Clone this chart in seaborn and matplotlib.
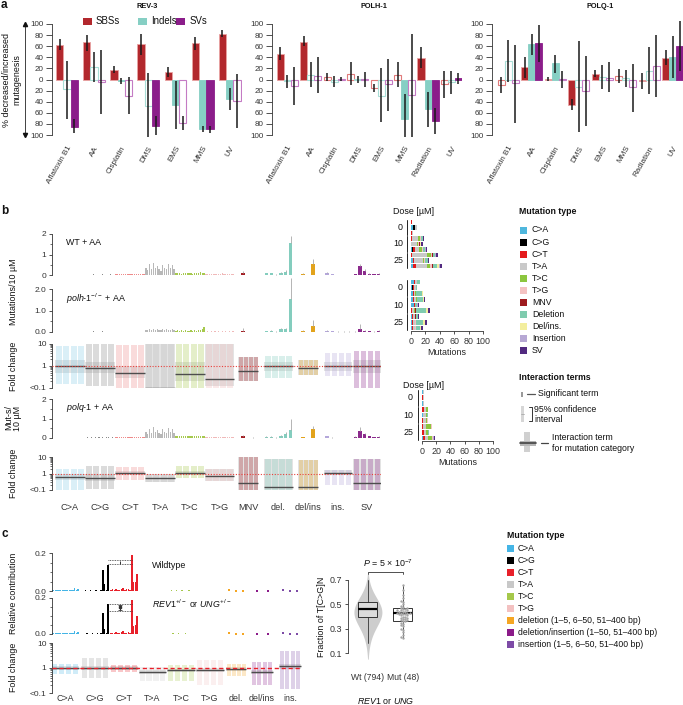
import numpy as np
import pandas as pd
import matplotlib
matplotlib.use("Agg")
import matplotlib.pyplot as plt
import matplotlib.transforms as mtransforms
from matplotlib.patches import Rectangle
from matplotlib.ticker import LogLocator, NullFormatter, MultipleLocator
import seaborn as sns

# ======================= DATA =======================
# ---- panel a: % decreased/increased mutagenesis ----
A_TYPES = ["SBSs", "Indels", "SVs"]
REV3_CATS = ["Aflatoxin B1", "AA", "Cisplatin", "DMS", "EMS", "MMS", "UV"]
REV3_SBS = [63, 67, 17, 64, 13, 65, 82]
REV3_SBS_LO = [53, 52, 11, 45, 4, 53, 76]
REV3_SBS_HI = [73, 81, 24, 82, 22, 77, 89]
REV3_SBS_SIG = [1, 1, 1, 1, 1, 1, 1]
REV3_IND = [-18, 23, -3, -47, -46, -89, -36]
REV3_IND_LO = [-72, -5, -8, -103, -90, -95, -55]
REV3_IND_HI = [34, 50, 3, 11, -2, -84, -16]
REV3_IND_SIG = [0, 0, 1, 0, 1, 1, 1]
REV3_SV = [-85, -5, -30, -83, -79, -90, -38]
REV3_SV_LO = [-97, -63, -63, -100, -91, -96, -87]
REV3_SV_HI = [-72, 53, 4, -65, -65, -84, 10]
REV3_SV_SIG = [1, 0, 0, 1, 0, 1, 0]

POLH_CATS = ["Aflatoxin B1", "AA", "Cisplatin", "DMS", "EMS", "MMS", "Radiation", "UV"]
POLH_SBS = [46, 68, 4, 10, -15, 9, 39, -9]
POLH_SBS_LO = [35, 60, -3, -10, -23, -14, 20, -34]
POLH_SBS_HI = [58, 78, 12, 31, -8, 32, 58, 15]
POLH_SBS_SIG = [1, 1, 0, 0, 0, 0, 1, 0]
POLH_IND = [-3, 9, -4, 1, -29, -72, -54, -5]
POLH_IND_LO = [-15, -14, -14, -6, -76, -104, -85, -27]
POLH_IND_HI = [9, 32, 6, 6, 20, -27, -22, 15]
POLH_IND_SIG = [0, 0, 0, 0, 0, 1, 1, 0]
POLH_SV = [-11, 7, 1, 1, -9, -28, -75, 2]
POLH_SV_LO = [-46, -25, -2, -13, -57, -104, -98, -9]
POLH_SV_HI = [22, 40, 4, 13, 37, 82, -52, 12]
POLH_SV_SIG = [0, 0, 0, 0, 0, 0, 1, 1]

POLQ_CATS = ["Aflatoxin B1", "AA", "Cisplatin", "DMS", "EMS", "MMS", "Radiation", "UV"]
POLQ_SBS = [-10, 23, 1, -46, 10, 6, -3, 38]
POLQ_SBS_LO = [-25, 3, -2, -55, 4, -6, -18, 26]
POLQ_SBS_HI = [4, 41, 4, -35, 17, 19, 12, 54]
POLQ_SBS_SIG = [0, 1, 1, 1, 1, 0, 1, 1]
POLQ_IND = [33, 64, 29, -13, 5, 3, 16, 40]
POLQ_IND_LO = [-5, 44, 12, -95, -17, -13, -26, 2]
POLQ_IND_HI = [72, 82, 44, 69, 27, 17, 59, 79]
POLQ_IND_SIG = [0, 1, 1, 0, 0, 0, 0, 1]
POLQ_SV = [-7, 66, 1, -20, 3, -14, 24, 60]
POLQ_SV_LO = [-79, 32, -15, -83, -23, -59, -31, 16]
POLQ_SV_HI = [62, 99, 15, 42, 31, 28, 80, 105]
POLQ_SV_SIG = [0, 1, 0, 0, 0, 0, 0, 1]

# ---- panel b: mutation spectra (mutations / 10 uM) ----
B_CATS = ["C>A", "C>G", "C>T", "T>A", "T>C", "T>G", "MNV", "del.", "del/ins", "ins.", "SV"]
WT_CA = [0.02, 0.02, 0.01, 0.02, 0.02, 0.01, 0.02, 0.02, 0.02, 0.01, 0.02, 0.02, 0.01, 0.02, 0.02, 0.02]
WT_CG = [0.01, 0.02, 0.01, 0.02, 0.03, 0.02, 0.01, 0.02, 0.02, 0.03, 0.01, 0.02, 0.02, 0.03, 0.02, 0.02]
WT_CT = [0.05, 0.04, 0.06, 0.04, 0.07, 0.05, 0.04, 0.05, 0.06, 0.04, 0.05, 0.07, 0.04, 0.05, 0.06, 0.04]
WT_TA = [0.35, 0.25, 0.55, 0.30, 0.60, 0.35, 0.45, 0.30, 0.20, 0.50, 0.35, 0.30, 0.55, 0.35, 0.50, 0.30]
WT_TC = [0.10, 0.08, 0.12, 0.07, 0.10, 0.09, 0.08, 0.12, 0.10, 0.07, 0.09, 0.12, 0.10, 0.13, 0.08, 0.12]
WT_TG = [0.03, 0.05, 0.03, 0.04, 0.06, 0.03, 0.04, 0.05, 0.04, 0.08, 0.03, 0.04, 0.05, 0.03, 0.04, 0.05]
WT_MNV = [0.12, 0.01]
WT_DEL = [0.08, 0.08, 0.02, 0.10, 0.15, 1.55]
WT_DELINS = [0.06, 0.55]
WT_INS = [0.10, 0.03, 0.01, 0.01, 0.01]
WT_SVS = [0.04, 0.42, 0.20, 0.07, 0.04, 0.07]
WT_MNV_HI = [0.18, 0.01]
WT_DEL_HI = [0.12, 0.12, 0.03, 0.15, 0.22, 1.90]
WT_DELINS_HI = [0.09, 0.78]
WT_INS_HI = [0.15, 0.05, 0.02, 0.02, 0.02]
WT_SVS_HI = [0.06, 0.55, 0.28, 0.10, 0.06, 0.10]

POLH_CA = [0.01, 0.01, 0.02, 0.01, 0.01, 0.01, 0.01, 0.02, 0.01, 0.01, 0.01, 0.01, 0.01, 0.02, 0.01, 0.01]
POLH_CG = [0.01, 0.02, 0.01, 0.02, 0.03, 0.01, 0.02, 0.01, 0.02, 0.03, 0.01, 0.02, 0.01, 0.02, 0.01, 0.02]
POLH_CT = [0.01, 0.02, 0.01, 0.02, 0.01, 0.02, 0.02, 0.01, 0.02, 0.01, 0.02, 0.01, 0.02, 0.01, 0.02, 0.02]
POLH_TA = [0.08, 0.10, 0.15, 0.08, 0.12, 0.10, 0.14, 0.08, 0.10, 0.12, 0.09, 0.15, 0.10, 0.08, 0.12, 0.10]
POLH_TC = [0.06, 0.08, 0.05, 0.07, 0.06, 0.08, 0.05, 0.06, 0.07, 0.05, 0.08, 0.06, 0.07, 0.10, 0.15, 0.22]
POLH_TG = [0.02, 0.03, 0.02, 0.04, 0.02, 0.03, 0.02, 0.03, 0.02, 0.04, 0.02, 0.03, 0.02, 0.03, 0.02, 0.03]
POLH_MNV = [0.06, 0.0]
POLH_DEL = [0.03, 0.05, 0.02, 0.12, 0.15, 1.55]
POLH_DELINS = [0.06, 0.30]
POLH_INS = [0.05, 0.03, 0.02, 0.02, 0.02]
POLH_SVS = [0.02, 0.12, 0.05, 0.03, 0.02, 0.05]
POLH_MNV_HI = [0.20, 0.0]
POLH_DEL_HI = [0.06, 0.08, 0.04, 0.18, 0.20, 2.50]
POLH_DELINS_HI = [0.10, 0.58]
POLH_INS_HI = [0.10, 0.05, 0.03, 0.03, 0.03]
POLH_SVS_HI = [0.04, 0.35, 0.08, 0.05, 0.03, 0.08]

POLQ_CA = [0.02, 0.01, 0.02, 0.02, 0.01, 0.02, 0.02, 0.01, 0.02, 0.02, 0.01, 0.02, 0.02, 0.01, 0.02, 0.02]
POLQ_CG = [0.02, 0.03, 0.02, 0.03, 0.02, 0.04, 0.02, 0.03, 0.02, 0.03, 0.02, 0.03, 0.04, 0.02, 0.03, 0.02]
POLQ_CT = [0.05, 0.04, 0.06, 0.05, 0.07, 0.04, 0.05, 0.06, 0.04, 0.05, 0.07, 0.04, 0.05, 0.06, 0.04, 0.06]
POLQ_TA = [0.30, 0.20, 0.45, 0.25, 0.55, 0.30, 0.40, 0.25, 0.20, 0.45, 0.30, 0.25, 0.50, 0.30, 0.45, 0.25]
POLQ_TC = [0.10, 0.08, 0.11, 0.09, 0.08, 0.10, 0.09, 0.12, 0.08, 0.10, 0.09, 0.11, 0.08, 0.12, 0.10, 0.11]
POLQ_TG = [0.03, 0.04, 0.03, 0.05, 0.03, 0.06, 0.03, 0.04, 0.03, 0.05, 0.04, 0.03, 0.05, 0.03, 0.04, 0.03]
POLQ_MNV = [0.12, 0.02]
POLQ_DEL = [0.06, 0.06, 0.02, 0.10, 0.20, 0.40]
POLQ_DELINS = [0.04, 0.45]
POLQ_INS = [0.08, 0.02, 0.01, 0.01, 0.01]
POLQ_SVS = [0.05, 0.38, 0.20, 0.08, 0.05, 0.06]
POLQ_MNV_HI = [0.15, 0.03]
POLQ_DEL_HI = [0.10, 0.10, 0.03, 0.15, 0.30, 1.00]
POLQ_DELINS_HI = [0.06, 0.62]
POLQ_INS_HI = [0.12, 0.03, 0.02, 0.02, 0.02]
POLQ_SVS_HI = [0.08, 0.55, 0.28, 0.12, 0.07, 0.08]

# fold changes (interaction terms) per category: estimate, per-context range, category CI box
FC_POLH_EST = [0.95, 0.80, 0.50, 0.10, 0.45, 0.25, 0.60, 0.95, 0.85, 0.95, 0.95]
FC_POLH_LO = [0.15, 0.12, 0.10, 0.10, 0.10, 0.10, 0.20, 0.30, 0.40, 0.35, 0.10]
FC_POLH_HI = [8.0, 10.0, 9.0, 10.0, 10.0, 10.0, 2.5, 3.0, 1.8, 4.0, 5.0]
FC_POLH_BOX_LO = [0.5, 0.5, 0.3, 0.1, 0.2, 0.12, 0.2, 0.6, 0.4, 0.6, 0.5]
FC_POLH_BOX_HI = [1.8, 1.6, 1.0, 10.0, 1.5, 10.0, 2.5, 1.5, 1.8, 1.6, 1.8]
FC_POLQ_EST = [0.60, 0.55, 1.10, 0.55, 1.10, 0.70, 0.25, 0.15, 0.15, 1.10, 0.25]
FC_POLQ_LO = [0.10, 0.12, 0.40, 0.30, 0.50, 0.35, 0.10, 0.10, 0.10, 0.20, 0.10]
FC_POLQ_HI = [1.8, 3.0, 2.5, 1.0, 3.0, 1.8, 10.0, 8.0, 7.0, 1.6, 8.0]
FC_POLQ_BOX_LO = [0.4, 0.35, 0.8, 0.3, 0.8, 0.35, 0.1, 0.1, 0.1, 0.8, 0.1]
FC_POLQ_BOX_HI = [0.9, 0.9, 1.5, 1.0, 1.5, 1.8, 10.0, 8.0, 7.0, 1.6, 8.0]

# dose-response stacked counts (rows: 3 samples x doses 0,10,25)
MUT_TYPES = ["C>A", "C>G", "C>T", "T>A", "T>C", "T>G", "MNV", "Deletion", "Del/ins.", "Insertion", "SV"]
DOSES = ["0", "10", "25"]
COUNTS_WT = [[0, 0, 1, 0, 0, 0, 0, 0, 0, 0, 0],
             [3, 2, 1, 3, 0, 0, 0, 0, 0, 0, 0],
             [0, 0, 2, 1, 0, 0, 0, 0, 0, 0, 0],
             [0, 0, 1, 9, 3, 1, 0, 2, 1, 0, 1],
             [0, 0, 0, 8, 2, 1, 1, 1, 1, 0, 2],
             [2, 1, 2, 6, 4, 1, 0, 3, 1, 1, 1],
             [0, 0, 2, 20, 6, 1, 1, 3, 1, 1, 3],
             [3, 0, 1, 12, 2, 1, 0, 4, 1, 0, 1],
             [3, 0, 4, 15, 5, 2, 2, 5, 3, 1, 3]]
COUNTS_POLH = [[4, 0, 2, 2, 1, 0, 0, 3, 0, 0, 0],
               [1, 2, 1, 3, 0, 0, 0, 1, 0, 0, 0],
               [3, 0, 1, 2, 1, 0, 0, 8, 1, 0, 1],
               [3, 0, 1, 3, 1, 1, 0, 8, 1, 0, 2],
               [4, 0, 1, 1, 0, 0, 0, 3, 0, 1, 1],
               [0, 0, 2, 2, 1, 1, 1, 14, 3, 0, 3],
               [2, 0, 1, 2, 1, 0, 1, 3, 0, 0, 1],
               [1, 0, 2, 2, 1, 1, 0, 10, 3, 0, 2],
               [1, 0, 2, 2, 1, 1, 0, 6, 1, 0, 2]]
COUNTS_POLQ = [[2, 0, 0, 1, 0, 0, 0, 0, 0, 0, 0],
               [0, 0, 2, 1, 0, 0, 0, 0, 0, 0, 0],
               [1, 0, 0, 2, 0, 0, 0, 0, 0, 0, 0],
               [0, 0, 3, 2, 3, 0, 0, 0, 0, 0, 0],
               [1, 0, 1, 4, 1, 0, 0, 1, 0, 0, 0],
               [0, 0, 2, 4, 1, 1, 0, 0, 0, 1, 0],
               [0, 0, 1, 5, 6, 2, 0, 0, 0, 0, 0],
               [0, 0, 3, 3, 2, 1, 0, 1, 0, 0, 0],
               [1, 0, 3, 5, 5, 2, 0, 0, 0, 1, 1]]

# ---- panel c: relative contribution spectra ----
C_CATS = ["C>A", "C>G", "C>T", "T>A", "T>C", "T>G", "del.", "del/ins", "ins."]
C_CA_WT = [0.004, 0.003, 0.004, 0.005, 0.003, 0.004, 0.004, 0.003, 0.005, 0.004, 0.004, 0.005, 0.006, 0.018, 0.007, 0.012]
C_CG_WT = [0.002, 0.002, 0.003, 0.002, 0.002, 0.003, 0.002, 0.002, 0.003, 0.002, 0.002, 0.003, 0.108, 0.035, 0.006, 0.139]
C_CT_WT = [0.006, 0.008, 0.005, 0.012, 0.007, 0.006, 0.009, 0.015, 0.006, 0.008, 0.012, 0.007, 0.190, 0.045, 0.048, 0.087]
C_TA_WT = [0.001, 0.001, 0.001, 0.002, 0.001, 0.001, 0.001, 0.001, 0.001, 0.001, 0.002, 0.001, 0.001, 0.001, 0.001, 0.001]
C_TC_WT = [0.002, 0.002, 0.003, 0.002, 0.002, 0.003, 0.002, 0.002, 0.003, 0.002, 0.002, 0.002, 0.003, 0.002, 0.002, 0.002]
C_TG_WT = [0.001, 0.001, 0.001, 0.001, 0.002, 0.001, 0.001, 0.001, 0.001, 0.001, 0.001, 0.002, 0.001, 0.001, 0.001, 0.001]
C_DEL_WT = [0.003, 0.002, 0.002]
C_DELINS_WT = [0.001, 0.001]
C_INS_WT = [0.003, 0.001, 0.001]
C_CA_REV = [0.004, 0.003, 0.004, 0.004, 0.003, 0.004, 0.005, 0.003, 0.004, 0.004, 0.005, 0.004, 0.006, 0.016, 0.006, 0.010]
C_CG_REV = [0.002, 0.002, 0.002, 0.003, 0.002, 0.002, 0.003, 0.002, 0.002, 0.003, 0.002, 0.003, 0.117, 0.030, 0.006, 0.167]
C_CT_REV = [0.006, 0.007, 0.005, 0.011, 0.007, 0.006, 0.010, 0.014, 0.006, 0.008, 0.011, 0.007, 0.190, 0.045, 0.050, 0.100]
C_TA_REV = [0.001, 0.001, 0.002, 0.001, 0.001, 0.001, 0.001, 0.001, 0.002, 0.001, 0.001, 0.001, 0.001, 0.001, 0.001, 0.001]
C_TC_REV = [0.002, 0.002, 0.002, 0.003, 0.002, 0.002, 0.003, 0.002, 0.002, 0.002, 0.003, 0.002, 0.002, 0.002, 0.002, 0.002]
C_TG_REV = [0.001, 0.001, 0.001, 0.002, 0.001, 0.001, 0.001, 0.001, 0.001, 0.001, 0.002, 0.001, 0.001, 0.001, 0.001, 0.001]
C_DEL_REV = [0.003, 0.002, 0.002]
C_DELINS_REV = [0.001, 0.001]
C_INS_REV = [0.004, 0.001, 0.001]
C_BRACKET_WT = [0.140, 0.162]
C_BRACKET_REV = [0.130, 0.167]
FC_C_EST = [1.0, 1.0, 1.0, 0.7, 0.8, 0.85, 0.9, 0.7, 1.15]
FC_C_LO = [0.6, 0.4, 0.7, 0.3, 0.3, 0.2, 0.5, 0.2, 0.15]
FC_C_HI = [1.5, 2.5, 1.3, 1.1, 1.3, 2.0, 1.5, 1.8, 5.0]
FC_C_BOX_LO = [0.85, 0.85, 0.85, 0.6, 0.7, 0.7, 0.75, 0.55, 0.9]
FC_C_BOX_HI = [1.15, 1.15, 1.15, 0.8, 0.95, 1.0, 1.1, 0.85, 1.4]

# T[C>G]N fraction box plot
BOX_GROUPS = ["Wt (794)", "Mut (48)"]
WT_STATS = dict(q1=0.395, med=0.465, q3=0.52, whislo=0.18, whishi=0.70)
MUT_STATS = dict(q1=0.36, med=0.43, q3=0.47, whislo=0.22, whishi=0.66)
WT_BIN_CENTERS = [0.05, 0.10, 0.15, 0.20, 0.25, 0.30, 0.35, 0.40, 0.45, 0.50, 0.55, 0.60, 0.65, 0.70, 0.75]
WT_BIN_COUNTS = [3, 6, 12, 25, 40, 70, 100, 130, 135, 115, 80, 45, 22, 9, 2]
MUT_VALUES = [0.66, 0.62, 0.58, 0.55, 0.53, 0.52, 0.50, 0.49, 0.48, 0.47, 0.47, 0.46,
              0.46, 0.45, 0.45, 0.45, 0.44, 0.44, 0.44, 0.43, 0.43, 0.43, 0.43, 0.42,
              0.42, 0.42, 0.41, 0.41, 0.40, 0.40, 0.39, 0.39, 0.38, 0.38, 0.37, 0.37,
              0.36, 0.36, 0.35, 0.34, 0.33, 0.32, 0.30, 0.29, 0.27, 0.25, 0.23, 0.22]

# ======================= STYLE =======================
A_COLORS = ["#B2282D", "#86CFC4", "#8B1D8A"]
A_EDGE_SIG = ["#E9A3A3", "#86CFC4", "#8B1D8A"]
A_EDGE_NS = ["#E07A7A", "#A8DED6", "#C47BC4"]
B_SPEC_COLORS = ["#86CBE6", "#8A8A8A", "#EE8A8A", "#B8B8B8", "#A6C94E", "#F0B9B9",
                 "#A31F24", "#84CDBE", "#E2A31C", "#B4A7DA", "#8B2A8C"]
B_LEG_COLORS = ["#4FB7DD", "#000000", "#E41A1C", "#C9C9C9", "#8CC63E", "#F4C2C2",
                "#9E1B1F", "#7FCBAE", "#F3EE9E", "#B7A8D4", "#522A80"]
C_COLORS = ["#45B5E6", "#000000", "#E8202A", "#C8C8C8", "#A5C84B", "#F3C1C1",
            "#F5A623", "#8B1A89", "#7D4BA6"]
C_FOLD_COLORS = ["#45B5E6", "#9A9A9A", "#E8202A", "#C8C8C8", "#A5C84B", "#F3C1C1",
                 "#F5A623", "#8B1A89", "#7D4BA6"]
C_LEG_LABELS = ["C>A", "C>G", "C>T", "T>A", "T>C", "T>G",
                "deletion (1\u20135, 6\u201350, 51\u2013400 bp)",
                "deletion/insertion (1\u201350, 51\u2013400 bp)",
                "insertion (1\u20135, 6\u201350, 51\u2013400 bp)"]
# layout (pixel spans of categories along the spectrum axes)
B_SPANS = [(55, 85), (85, 115), (115, 145), (145, 175), (175, 205), (205, 234),
           (238, 258), (264, 293), (298, 318), (324, 352), (353, 381)]
C_SPANS = [(51, 79), (81, 109), (110, 138), (139, 166), (167, 195), (196, 224),
           (226, 246), (251, 273), (279, 301)]

sns.set_theme(style="ticks")
plt.rcParams["font.family"] = ["Liberation Sans", "DejaVu Sans"]
plt.rcParams.update({
    "font.size": 6, "axes.linewidth": 0.6,
    "xtick.major.width": 0.6, "ytick.major.width": 0.6,
    "ytick.minor.width": 0.5, "xtick.labelsize": 6, "ytick.labelsize": 6,
    "xtick.major.size": 2.5, "ytick.major.size": 2.5, "ytick.minor.size": 1.5,
    "xtick.major.pad": 1.5, "ytick.major.pad": 1.5,
    "axes.edgecolor": "#333333", "xtick.color": "#333333", "ytick.color": "#333333",
    "text.color": "#111111",
    "mathtext.fontset": "custom", "mathtext.rm": "Liberation Sans",
    "mathtext.it": "Liberation Sans:italic", "mathtext.bf": "Liberation Sans:bold",
})

W, H = 683, 705
fig = plt.figure(figsize=(W / 100, H / 100), dpi=100)


def add_ax(x0, y0, x1, y1):
    return fig.add_axes([x0 / W, 1 - y1 / H, (x1 - x0) / W, (y1 - y0) / H])


ov = fig.add_axes([0, 0, 1, 1], zorder=20)
ov.set_xlim(0, W)
ov.set_ylim(H, 0)
ov.axis("off")

# ======================= PANEL A =======================
def panel_a(rect, title, title_x, cats, vals, los, his, sigs, width, xlim):
    ax = add_ax(*rect)
    n = len(cats)
    df = pd.DataFrame({"treatment": cats * 3,
                       "type": [t for t in A_TYPES for _ in cats],
                       "effect": vals[0] + vals[1] + vals[2]})
    sns.barplot(data=df, x="treatment", y="effect", hue="type", order=cats,
                hue_order=A_TYPES, palette=A_COLORS, width=width, errorbar=None,
                saturation=1, legend=False, ax=ax)
    for ti, cont in enumerate(ax.containers):
        for ci, p in enumerate(cont.patches):
            xc = p.get_x() + p.get_width() / 2
            if sigs[ti][ci]:
                p.set_edgecolor(A_EDGE_SIG[ti]); p.set_linewidth(0.6)
            else:
                p.set_facecolor("none"); p.set_edgecolor(A_EDGE_NS[ti]); p.set_linewidth(0.8)
            ax.vlines(xc, los[ti][ci], his[ti][ci], color="#1a1a1a", lw=1.1,
                      zorder=5, clip_on=False)
    ax.set_xlim(*xlim)
    ax.set_ylim(-100, 100)
    ticks = list(range(-100, 101, 20))
    ax.set_yticks(ticks)
    ax.set_yticklabels([str(abs(t)) for t in ticks])
    ax.tick_params(axis="y", length=4.3, pad=2, labelsize=5.8)
    ax.tick_params(axis="x", length=0, pad=7, labelsize=5.8)
    ax.set_xticks(range(n))
    ax.set_xticklabels(cats, rotation=60, ha="right", va="top")
    off = mtransforms.ScaledTranslation(6 / 100, 0, fig.dpi_scale_trans)
    for lab in ax.get_xticklabels():
        lab.set_transform(lab.get_transform() + off)
    ax.set_xlabel(""); ax.set_ylabel("")
    for s in ["top", "right", "bottom"]:
        ax.spines[s].set_visible(False)
    ax.patch.set_alpha(0)
    ov.text(title_x, 7, title, fontsize=5.3, fontweight="bold", ha="center", va="center")
    return ax


panel_a((52, 24, 242, 135), "REV-3", 147, REV3_CATS,
        [REV3_SBS, REV3_IND, REV3_SV], [REV3_SBS_LO, REV3_IND_LO, REV3_SV_LO],
        [REV3_SBS_HI, REV3_IND_HI, REV3_SV_HI], [REV3_SBS_SIG, REV3_IND_SIG, REV3_SV_SIG],
        0.81, (-0.55, 6.45))
panel_a((272, 24, 462, 135), "POLH-1", 374, POLH_CATS,
        [POLH_SBS, POLH_IND, POLH_SV], [POLH_SBS_LO, POLH_IND_LO, POLH_SV_LO],
        [POLH_SBS_HI, POLH_IND_HI, POLH_SV_HI], [POLH_SBS_SIG, POLH_IND_SIG, POLH_SV_SIG],
        0.9, (-0.66, 7.45))
panel_a((492, 24, 683, 135), "POLQ-1", 600, POLQ_CATS,
        [POLQ_SBS, POLQ_IND, POLQ_SV], [POLQ_SBS_LO, POLQ_IND_LO, POLQ_SV_LO],
        [POLQ_SBS_HI, POLQ_IND_HI, POLQ_SV_HI], [POLQ_SBS_SIG, POLQ_IND_SIG, POLQ_SV_SIG],
        0.9, (-0.7, 7.44))

# legend a
for (sx, tx, lab, col) in [(83, 96, "SBSs", A_COLORS[0]), (138, 151, "Indels", A_COLORS[1]),
                           (176, 190, "SVs", A_COLORS[2])]:
    ov.add_patch(Rectangle((sx, 17.5), 8.5, 7.5, color=col, lw=0))
    ov.text(tx, 21.5, lab, fontsize=6.9, va="center", ha="left")
# y label and arrow
ov.text(12, 80, "% decreased/increased\nmutagenesis", rotation=90, ha="center",
        va="center", fontsize=6.4, linespacing=1.15, multialignment="center")
ov.plot([25, 25], [25, 134], color="#222222", lw=0.6)
ov.plot([25], [24], marker="^", ms=3, color="#111111")
ov.plot([25], [135], marker="v", ms=3, color="#111111")
ov.text(1, 5, "a", fontsize=8.5, fontweight="bold", va="center")

# ======================= PANEL B =======================
def bar_positions(span, n):
    s, e = span
    step = (e - s) / n
    return s + (np.arange(n) + 0.5) * step, step


def draw_spectrum(ax, series, spans, colors, highs=None, n_sbs=6, dot_w=None, marker=False):
    for k, vals in enumerate(series):
        xs, step = bar_positions(spans[k], len(vals))
        if k < n_sbs:
            w = step * 0.72
        else:
            w = dot_w if dot_w else min(step * 0.72, 3.5)
        ax.bar(xs, vals, width=w, color=colors[k], linewidth=0)
        if marker and k >= n_sbs:
            ax.plot(xs, vals, "s", ms=1.7, color=colors[k], mew=0)
        if highs is not None and highs[k] is not None:
            ax.vlines(xs, vals, highs[k], color="#A8A8A8", lw=0.6, clip_on=False)


def style_linear(ax, xlim, ylim, ticks, labels, minor):
    ax.set_xlim(*xlim)
    ax.set_ylim(*ylim)
    ax.set_yticks(ticks)
    ax.set_yticklabels(labels)
    ax.yaxis.set_minor_locator(MultipleLocator(minor))
    ax.set_xticks([])
    for s in ["top", "right", "bottom"]:
        ax.spines[s].set_visible(False)
    ax.spines["left"].set_bounds(*ylim)
    ax.patch.set_alpha(0)


def draw_fold(ax, spans, colors, est, lo, hi, box_lo, box_hi, xlim, dashed=False, alpha=0.3):
    ax.set_yscale("log")
    for k, (s, e) in enumerate(spans):
        ax.add_patch(Rectangle((s, box_lo[k]), e - s, box_hi[k] - box_lo[k],
                               color="#E3E3E3", lw=0, zorder=1))
        xs, step = bar_positions((s, e), 4)
        ax.bar(xs, hi[k] - lo[k], bottom=lo[k], width=step * 0.8, color=colors[k],
               alpha=alpha, lw=0, zorder=2)
        ax.hlines(est[k], s, e, color="#4D4D4D", lw=1.0, zorder=4)
    if dashed:
        ax.axhline(1, color="#E8202A", lw=1.0, ls=(0, (3, 2)), zorder=5)
    else:
        ax.axhline(1, color="#E8413C", lw=0.8, ls=(0, (1, 1.5)), zorder=5)
    ax.set_xlim(*xlim)
    ax.set_ylim(0.1, 10)
    ax.set_yticks([0.1, 1, 10])
    ax.set_yticklabels(["<0.1", "1", "10"])
    ax.yaxis.set_minor_locator(LogLocator(base=10, subs=np.arange(2, 10)))
    ax.yaxis.set_minor_formatter(NullFormatter())
    for s in ["top", "right", "bottom"]:
        ax.spines[s].set_visible(False)
    ax.patch.set_alpha(0)


BX = (52, 381)
ax = add_ax(52, 234, 381, 275)
draw_spectrum(ax, [WT_CA, WT_CG, WT_CT, WT_TA, WT_TC, WT_TG, WT_MNV, WT_DEL, WT_DELINS, WT_INS, WT_SVS],
              B_SPANS, B_SPEC_COLORS,
              [None] * 6 + [WT_MNV_HI, WT_DEL_HI, WT_DELINS_HI, WT_INS_HI, WT_SVS_HI])
style_linear(ax, BX, (0, 2), [0, 1, 2], ["0", "1", "2"], 0.5)
ax.text(66, 1.6, "WT + AA", fontsize=6.4, va="center")

ax = add_ax(52, 289, 381, 332)
draw_spectrum(ax, [POLH_CA, POLH_CG, POLH_CT, POLH_TA, POLH_TC, POLH_TG, POLH_MNV, POLH_DEL,
                   POLH_DELINS, POLH_INS, POLH_SVS],
              B_SPANS, B_SPEC_COLORS,
              [None] * 6 + [POLH_MNV_HI, POLH_DEL_HI, POLH_DELINS_HI, POLH_INS_HI, POLH_SVS_HI])
style_linear(ax, BX, (0, 2), [0, 1, 2], ["0.0", "1.0", "2.0"], 0.5)
ax.text(66, 1.55, r"$\it{polh}$-$\it{1}^{-/-}$ + AA", fontsize=6.4, va="center")

ax = add_ax(52, 344, 381, 388)
draw_fold(ax, B_SPANS, B_SPEC_COLORS, FC_POLH_EST, FC_POLH_LO, FC_POLH_HI,
          FC_POLH_BOX_LO, FC_POLH_BOX_HI, BX)
ax.set_xticks([])

ax = add_ax(52, 399, 381, 438)
draw_spectrum(ax, [POLQ_CA, POLQ_CG, POLQ_CT, POLQ_TA, POLQ_TC, POLQ_TG, POLQ_MNV, POLQ_DEL,
                   POLQ_DELINS, POLQ_INS, POLQ_SVS],
              B_SPANS, B_SPEC_COLORS,
              [None] * 6 + [POLQ_MNV_HI, POLQ_DEL_HI, POLQ_DELINS_HI, POLQ_INS_HI, POLQ_SVS_HI])
style_linear(ax, BX, (0, 2), [0, 1, 2], ["0", "1", "2"], 0.5)
ax.text(66, 1.55, r"$\it{polq}$-$\it{1}$ + AA", fontsize=6.4, va="center")

ax = add_ax(52, 457, 381, 490)
draw_fold(ax, B_SPANS, B_SPEC_COLORS, FC_POLQ_EST, FC_POLQ_LO, FC_POLQ_HI,
          FC_POLQ_BOX_LO, FC_POLQ_BOX_HI, BX)
ax.set_xticks([(s + e) / 2 for s, e in B_SPANS])
ax.set_xticklabels(B_CATS, fontsize=6.6)
ax.tick_params(axis="x", length=0, pad=9)

ov.text(1, 211, "b", fontsize=8.5, fontweight="bold", va="center")
ov.text(13.5, 292, "Mutations/10 \u00b5M", rotation=90, ha="center", va="center", fontsize=6.4)
ov.text(13.5, 366, "Fold change", rotation=90, ha="center", va="center", fontsize=6.4)
ov.text(13.5, 418, "Mut-s/\n10 \u00b5M", rotation=90, ha="center", va="center", fontsize=6.4,
        linespacing=1.0, multialignment="center")
ov.text(13.5, 473, "Fold change", rotation=90, ha="center", va="center", fontsize=6.4)


# ---- stacked dose bars ----
def stacked(ax, counts, label_x, bracket_x, show_axis):
    counts = np.array(counts, dtype=float)
    n = counts.shape[0]
    y = np.arange(n)
    left = np.zeros(n)
    for j in range(counts.shape[1]):
        ax.barh(y, counts[:, j], left=left, height=0.8, color=B_LEG_COLORS[j], lw=0)
        left += counts[:, j]
    ax.set_ylim(n - 0.5, -0.5)
    ax.set_xlim(0, 100)
    ax.set_yticks([])
    tr = mtransforms.blended_transform_factory(ax.transAxes, ax.transData)
    for g, d in enumerate(DOSES):
        ax.text(label_x, 3 * g + 1, d, transform=tr, ha="right", va="center", fontsize=6.4)
        ax.plot([bracket_x, bracket_x], [3 * g - 0.4, 3 * g + 2.4], transform=tr,
                color="#222222", lw=0.7, clip_on=False)
    for s in ["top", "right", "left"]:
        ax.spines[s].set_visible(False)
    if show_axis:
        ax.set_xticks([0, 20, 40, 60, 80, 100])
        ax.tick_params(axis="x", length=2.5, pad=1.5, labelsize=6.4)
        ax.set_xlabel("Mutations", fontsize=6.4, labelpad=2)
    else:
        ax.set_xticks([])
        ax.spines["bottom"].set_visible(False)
    ax.patch.set_alpha(0)


stacked(add_ax(411, 219, 483, 269), COUNTS_WT, -0.11, -0.055, False)
stacked(add_ax(411, 279, 483, 331), COUNTS_POLH, -0.11, -0.055, True)
stacked(add_ax(422, 389, 493, 441), COUNTS_POLQ, -0.125, -0.055, True)
ov.text(393, 212, "Dose [\u00b5M]", fontsize=6.4, va="center")
ov.text(403, 385, "Dose [\u00b5M]", fontsize=6.4, va="center")

# legend b
ov.text(519, 212, "Mutation type", fontsize=6.3, fontweight="bold", va="center")
for i, (lab, col) in enumerate(zip(MUT_TYPES, B_LEG_COLORS)):
    yy = 230 + i * 12.05
    ov.add_patch(Rectangle((520, yy - 3.5), 7, 7, color=col, lw=0))
    ov.text(532, yy, lab, fontsize=6.3, va="center")

ov.text(519, 378, "Interaction terms", fontsize=6.3, fontweight="bold", va="center")
ov.add_patch(Rectangle((520.5, 391.5), 2.5, 5, color="#9A9A9A", lw=0))
ov.plot([527, 535], [394, 394], color="#555555", lw=0.9)
ov.text(538, 394, "Significant term", fontsize=6.3, va="center")
ov.add_patch(Rectangle((520.5, 406), 3.5, 16, color="#D6D6D6", lw=0))
ov.plot([520.5, 524], [414, 414], color="#AAAAAA", lw=0.6)
ov.plot([529, 531.5, 531.5, 529], [407, 407, 421, 421], color="#333333", lw=0.7)
ov.text(534, 409, "95% confidence", fontsize=6.3, va="center")
ov.text(534, 419.5, "interval", fontsize=6.3, va="center")
ov.add_patch(Rectangle((524, 432), 6, 20, color="#D0D0D0", lw=0))
ov.add_patch(Rectangle((519.5, 440.5), 16, 5, color="#B5B5B5", lw=0))
ov.plot([519.5, 535.5], [443, 443], color="#444444", lw=1.2)
ov.plot([541, 548], [443, 443], color="#444444", lw=0.9)
ov.text(552, 437.5, "Interaction term", fontsize=6.3, va="center")
ov.text(552, 448.5, "for mutation category", fontsize=6.3, va="center")

# ======================= PANEL C =======================
CX = (52, 302)
ax = add_ax(52, 553, 302, 591)
draw_spectrum(ax, [C_CA_WT, C_CG_WT, C_CT_WT, C_TA_WT, C_TC_WT, C_TG_WT, C_DEL_WT, C_DELINS_WT, C_INS_WT],
              C_SPANS, C_COLORS, dot_w=2.0, marker=True)
style_linear(ax, CX, (0, 0.2), [0, 0.2], ["0.0", "0.2"], 0.05)
x_cg15 = bar_positions(C_SPANS[1], 16)[0][15]
x_ct12 = bar_positions(C_SPANS[2], 16)[0][12]
ax.hlines(C_BRACKET_WT, x_cg15, x_ct12, colors="#333333", lw=0.6, linestyles=(0, (1, 1)))
ax.vlines((x_cg15 + x_ct12) / 2, C_BRACKET_WT[0] + 0.004, C_BRACKET_WT[1] - 0.004,
          colors="#333333", lw=0.7)
ax.text(152, 0.135, "Wildtype", fontsize=6.4, va="center")

ax = add_ax(52, 598, 302, 634)
draw_spectrum(ax, [C_CA_REV, C_CG_REV, C_CT_REV, C_TA_REV, C_TC_REV, C_TG_REV, C_DEL_REV,
                   C_DELINS_REV, C_INS_REV],
              C_SPANS, C_COLORS, dot_w=2.0, marker=True)
style_linear(ax, CX, (0, 0.2), [0, 0.2], ["0.0", "0.2"], 0.05)
ax.hlines(C_BRACKET_REV, x_cg15, x_ct12, colors="#333333", lw=0.6, linestyles=(0, (1, 1)))
mid_rev = np.mean(C_BRACKET_REV)
ax.errorbar([(x_cg15 + x_ct12) / 2], [mid_rev],
            yerr=[[mid_rev - C_BRACKET_REV[0] - 0.006], [C_BRACKET_REV[1] - mid_rev - 0.006]],
            fmt="s", ms=1.6, color="#333333", lw=0.7, capsize=1.2, capthick=0.6)
ax.text(152, 0.165, r"$\it{REV1}^{+/-}$ or $\it{UNG}^{+/-}$", fontsize=6.4, va="center")

ax = add_ax(52, 643, 302, 693)
draw_fold(ax, C_SPANS, C_FOLD_COLORS, FC_C_EST, FC_C_LO, FC_C_HI, FC_C_BOX_LO, FC_C_BOX_HI,
          CX, dashed=True, alpha=0.25)
ax.set_xticks([(s + e) / 2 for s, e in C_SPANS])
ax.set_xticklabels(C_CATS, fontsize=6.4)
ax.tick_params(axis="x", length=0, pad=1)

ov.text(1, 534, "c", fontsize=8.5, fontweight="bold", va="center")
ov.text(13.5, 593, "Relative contribution", rotation=90, ha="center", va="center", fontsize=6.4)
ov.text(13.5, 667, "Fold change", rotation=90, ha="center", va="center", fontsize=6.4)

# ---- box plot ----
axb = add_ax(348, 566, 420, 659)
wt_vals = np.repeat(WT_BIN_CENTERS, WT_BIN_COUNTS)
sns.violinplot(x=["Wt"] * len(wt_vals), y=wt_vals, order=["Wt", "Mut"], inner=None,
               color="#CDCDCD", linewidth=0, cut=0, bw_adjust=1.5, width=0.8,
               saturation=1, ax=axb)
sns.swarmplot(x=["Mut"] * len(MUT_VALUES), y=MUT_VALUES, order=["Wt", "Mut"],
              color="#A5A5A5", size=1.7, ax=axb)
stats = []
for lab, st in zip(BOX_GROUPS, [WT_STATS, MUT_STATS]):
    d = dict(st); d["label"] = lab; d["fliers"] = []
    stats.append(d)
bp = axb.bxp(stats, positions=[0, 1], widths=0.54, patch_artist=True, showfliers=False,
             showcaps=False, manage_ticks=False,
             boxprops=dict(edgecolor="#333333", lw=0.7),
             medianprops=dict(color="#000000", lw=1.6),
             whiskerprops=dict(color="#333333", lw=0.6))
bp["boxes"][0].set_facecolor((0.87, 0.87, 0.87, 0.85))
bp["boxes"][1].set_facecolor("none")
axb.set_xlim(-0.57, 1.49)
axb.set_ylim(0.051, 0.815)
axb.set_yticks([0.1, 0.3, 0.5, 0.7])
axb.set_yticklabels(["0.1", "0.3", "0.5", "0.7"])
axb.tick_params(axis="y", labelsize=6.4, length=2.5)
axb.set_xticks([0, 1])
axb.set_xticklabels(BOX_GROUPS, fontsize=6.2)
axb.tick_params(axis="x", length=0, pad=10)
axb.set_xlabel(""); axb.set_ylabel("")
for s in ["top", "right", "bottom"]:
    axb.spines[s].set_visible(False)
axb.spines["left"].set_bounds(0.1, 0.7)
axb.patch.set_alpha(0)
ov.text(322, 617, "Fraction of T[C>G]N", rotation=90, ha="center", va="center", fontsize=6.4)
ov.plot([368, 368, 403, 403], [574, 572, 572, 574], color="#333333", lw=0.6)
ov.text(388, 563.5, "$\\it{P}$ = 5 \u00d7 10$^{-7}$", fontsize=6.4, ha="center", va="center")
ov.text(386, 701, r"$\it{REV1}$ or $\it{UNG}$", fontsize=6.4, ha="center", va="center")

# legend c
ov.text(507, 536, "Mutation type", fontsize=6.3, fontweight="bold", va="center")
for i, (lab, col) in enumerate(zip(C_LEG_LABELS, C_COLORS)):
    yy = 548.5 + i * 12
    ov.add_patch(Rectangle((507, yy - 3.2), 6.5, 6.5, color=col, lw=0))
    ov.text(518, yy, lab, fontsize=6.2, va="center")

fig.savefig("out.png", dpi=100)
